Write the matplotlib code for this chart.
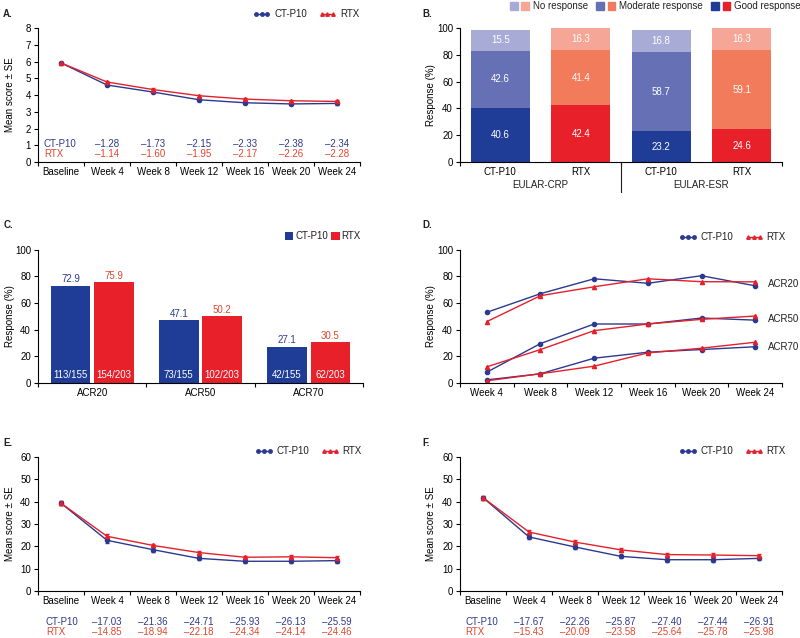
import matplotlib
matplotlib.use('Agg')
import matplotlib.pyplot as plt
from matplotlib.patches import Patch
from matplotlib.lines import Line2D
from matplotlib.legend_handler import HandlerTuple
from matplotlib.transforms import blended_transform_factory
import numpy as np

plt.rcParams['font.family'] = ['Liberation Sans', 'DejaVu Sans']
plt.rcParams['font.size'] = 7
plt.rcParams['axes.linewidth'] = 0.8
plt.rcParams['text.color'] = '#231f20'

BLUE = '#2b3990'
RED = '#e4202a'
BLUE_TXT = '#2e3a8c'
RED_TXT = '#e0472e'

# data
weeks = ['Baseline', 'Week 4', 'Week 8', 'Week 12', 'Week 16', 'Week 20', 'Week 24']
weeks_d = weeks[1:]

# A
a_ct = [5.92, 4.60, 4.18, 3.72, 3.54, 3.47, 3.50]
a_rtx = [5.92, 4.78, 4.33, 3.96, 3.76, 3.66, 3.62]
a_se_ct = [0.08, 0.08, 0.08, 0.08, 0.08, 0.08, 0.08]
a_se_rtx = [0.07, 0.07, 0.07, 0.07, 0.07, 0.07, 0.07]
a_chg_ct = [-1.28, -1.73, -2.15, -2.33, -2.38, -2.34]
a_chg_rtx = [-1.14, -1.60, -1.95, -2.17, -2.26, -2.28]

# B
b_cats = ['CT-P10', 'RTX', 'CT-P10', 'RTX']
b_groups = ['EULAR-CRP', 'EULAR-ESR']
b_good = [40.6, 42.4, 23.2, 24.6]
b_moderate = [42.6, 41.4, 58.7, 59.1]
b_none = [15.5, 16.3, 16.8, 16.3]

# C
c_cats = ['ACR20', 'ACR50', 'ACR70']
c_ct = [72.9, 47.1, 27.1]
c_rtx = [75.9, 50.2, 30.5]
c_n_ct = ['113/155', '73/155', '42/155']
c_n_rtx = ['154/203', '102/203', '62/203']

# D
d_acr20_ct = [53.0, 67.0, 78.2, 74.8, 80.5, 72.9]
d_acr20_rtx = [46.0, 65.5, 72.2, 78.2, 76.0, 75.9]
d_acr50_ct = [8.0, 29.5, 44.2, 44.2, 48.7, 47.1]
d_acr50_rtx = [12.0, 25.0, 39.2, 44.2, 47.7, 50.2]
d_acr70_ct = [2.2, 6.8, 18.5, 23.0, 25.0, 27.1]
d_acr70_rtx = [1.5, 6.8, 12.5, 22.5, 26.0, 30.5]

# E
e_ct = [39.3, 22.7, 18.5, 14.6, 13.3, 13.3, 13.6]
e_rtx = [39.3, 24.5, 20.4, 17.2, 15.1, 15.3, 14.9]
e_se_ct = [0.9, 1.0, 1.0, 0.9, 0.9, 0.9, 0.9]
e_se_rtx = [0.8, 0.8, 0.8, 0.7, 0.7, 0.7, 0.7]
e_chg_ct = [-17.03, -21.36, -24.71, -25.93, -26.13, -25.59]
e_chg_rtx = [-14.85, -18.94, -22.18, -24.34, -24.14, -24.46]

# F
f_ct = [41.8, 24.2, 19.7, 15.5, 14.0, 14.0, 14.6]
f_rtx = [41.8, 26.4, 21.9, 18.4, 16.3, 16.1, 15.8]
f_se_ct = [0.9, 0.9, 0.9, 0.8, 0.8, 0.8, 0.8]
f_se_rtx = [0.8, 0.9, 0.9, 0.8, 0.8, 0.9, 0.9]
f_chg_ct = [-17.67, -22.26, -25.87, -27.40, -27.44, -26.91]
f_chg_rtx = [-15.43, -20.09, -23.58, -25.64, -25.78, -25.98]

ct_cols = ['#1f3c96', '#6670b5', '#a7abd5']
rtx_cols = ['#e8202a', '#f27b5b', '#f5a697']


def fmt(v):
    return f'{v:.2f}'.replace('-', '\u2013')


def style(ax, labels):
    n = len(labels)
    x = np.arange(n)
    for s in ['top', 'right']:
        ax.spines[s].set_visible(False)
    ax.set_xlim(-0.5, n - 0.5)
    ax.set_xticks(x)
    ax.set_xticklabels(labels)
    ax.set_xticks(np.arange(n + 1) - 0.5, minor=True)
    ax.tick_params(axis='x', which='major', length=0, pad=3.5)
    ax.tick_params(axis='x', which='minor', length=3, width=0.8)
    ax.tick_params(axis='y', length=3, width=0.8, pad=2)


def set_ylab(ax, text, x):
    ax.set_ylabel(text)
    ax.yaxis.set_label_coords(x, 0.5)


def line_legend(ax, x, y):
    h = [Line2D([], [], color=BLUE, marker='o', ms=2.5, lw=1),
         Line2D([], [], color=RED, marker='^', ms=2.5, lw=1)]
    ax.legend(h, ['CT-P10', 'RTX'], loc='center right', bbox_to_anchor=(x, y),
              bbox_transform=fig.transFigure, ncol=2, frameon=False, numpoints=3,
              handlelength=1.8, columnspacing=1.2, handletextpad=0.4, fontsize=7)


def score_panel(ax, ct, rtx, se_ct, se_rtx, labx):
    x = np.arange(len(weeks))
    ax.errorbar(x, ct, yerr=se_ct, color=BLUE, marker='o', ms=3, lw=1,
                capsize=1.5, elinewidth=0.8)
    ax.errorbar(x, rtx, yerr=se_rtx, color=RED, marker='^', ms=3, lw=1,
                capsize=1.5, elinewidth=0.8)
    style(ax, weeks)
    set_ylab(ax, 'Mean score \u00b1 SE', labx)


fig = plt.figure(figsize=(8, 6.38), dpi=100)
axA = fig.add_axes([0.0475, 0.746, 0.4025, 0.210])
axB = fig.add_axes([0.575, 0.746, 0.4025, 0.210])
axC = fig.add_axes([0.0475, 0.400, 0.4060, 0.2085])
axD = fig.add_axes([0.575, 0.400, 0.4025, 0.2085])
axE = fig.add_axes([0.0475, 0.0737, 0.4025, 0.210])
axF = fig.add_axes([0.575, 0.0737, 0.4025, 0.210])

# A
score_panel(axA, a_ct, a_rtx, a_se_ct, a_se_rtx, -0.072)
axA.set_ylim(0, 8)
axA.set_yticks(range(0, 9))
axA.text(-0.37, 1.1, 'CT-P10', color=BLUE_TXT, va='center')
axA.text(-0.37, 0.5, 'RTX', color=RED_TXT, va='center')
for i, (c, r) in enumerate(zip(a_chg_ct, a_chg_rtx)):
    axA.text(i + 1, 1.1, fmt(c), color=BLUE_TXT, ha='center', va='center')
    axA.text(i + 1, 0.5, fmt(r), color=RED_TXT, ha='center', va='center')
line_legend(axA, 0.46, 0.978)

# B
xb = np.arange(len(b_cats))
cols_b = [ct_cols if c == 'CT-P10' else rtx_cols for c in b_cats]
bottom = np.zeros(len(b_cats))
for k, vals in enumerate([b_good, b_moderate, b_none]):
    axB.bar(xb, vals, width=0.73, bottom=bottom, color=[c[k] for c in cols_b])
    for i, v in enumerate(vals):
        axB.text(xb[i], bottom[i] + v / 2, f'{v:.1f}', color='white',
                 ha='center', va='center', fontsize=7)
    bottom += np.array(vals)
style(axB, b_cats)
axB.set_xticks([-0.5, 1.5, 3.5], minor=True)
axB.set_ylim(0, 100)
axB.set_yticks(range(0, 101, 20))
set_ylab(axB, 'Response (%)', -0.075)
tb = blended_transform_factory(axB.transData, axB.transAxes)
for i, g in enumerate(b_groups):
    axB.text(2 * i + 0.5, -0.175, g, transform=tb, ha='center', va='center')
axB.plot([1.5, 1.5], [0, -0.224], transform=tb, color='#231f20', lw=0.8, clip_on=False)
hB = [(Patch(color=ct_cols[2]), Patch(color=rtx_cols[2])),
      (Patch(color=ct_cols[1]), Patch(color=rtx_cols[1])),
      (Patch(color=ct_cols[0]), Patch(color=rtx_cols[0]))]
axB.legend(hB, ['No response', 'Moderate response', 'Good response'],
           handler_map={tuple: HandlerTuple(ndivide=None, pad=0.4)},
           loc='center right', bbox_to_anchor=(1.012, 0.99), bbox_transform=fig.transFigure,
           ncol=3, frameon=False, handlelength=2.0, handleheight=0.9,
           columnspacing=0.8, handletextpad=0.4, fontsize=7)

# C
xc = np.arange(len(c_cats))
axC.bar(xc - 0.2, c_ct, width=0.365, color=ct_cols[0], label='CT-P10')
axC.bar(xc + 0.2, c_rtx, width=0.365, color=rtx_cols[0], label='RTX')
for i in range(len(c_cats)):
    axC.text(xc[i] - 0.2, c_ct[i] + 1, f'{c_ct[i]:.1f}', color=BLUE_TXT, ha='center', va='bottom')
    axC.text(xc[i] + 0.2, c_rtx[i] + 1, f'{c_rtx[i]:.1f}', color=RED_TXT, ha='center', va='bottom')
    axC.text(xc[i] - 0.2, 5.5, c_n_ct[i], color='white', ha='center', va='center')
    axC.text(xc[i] + 0.2, 5.5, c_n_rtx[i], color='white', ha='center', va='center')
style(axC, c_cats)
axC.set_ylim(0, 100)
axC.set_yticks(range(0, 101, 20))
set_ylab(axC, 'Response (%)', -0.072)
axC.legend(loc='center right', bbox_to_anchor=(0.462, 0.630), bbox_transform=fig.transFigure,
           ncol=2, frameon=False, handlelength=0.9, handleheight=0.9,
           columnspacing=0.3, handletextpad=0.2, fontsize=7)

# D
xd = np.arange(len(weeks_d))
for ct, rtx in [(d_acr20_ct, d_acr20_rtx), (d_acr50_ct, d_acr50_rtx), (d_acr70_ct, d_acr70_rtx)]:
    axD.plot(xd, ct, color=BLUE, marker='o', ms=3, lw=1)
    axD.plot(xd, rtx, color=RED, marker='^', ms=3, lw=1)
for lab, yv in [('ACR20', 74), ('ACR50', 48), ('ACR70', 27)]:
    axD.text(5.24, yv, lab, va='center', clip_on=False)
style(axD, weeks_d)
axD.set_ylim(0, 100)
axD.set_yticks(range(0, 101, 20))
set_ylab(axD, 'Response (%)', -0.075)
line_legend(axD, 0.993, 0.628)

# E
score_panel(axE, e_ct, e_rtx, e_se_ct, e_se_rtx, -0.072)
axE.set_ylim(0, 60)
axE.set_yticks(range(0, 61, 10))
te = blended_transform_factory(axE.transData, axE.transAxes)
axE.text(-0.33, -0.231, 'CT-P10', color=BLUE_TXT, va='center', transform=te)
axE.text(-0.33, -0.306, 'RTX', color=RED_TXT, va='center', transform=te)
for i, (c, r) in enumerate(zip(e_chg_ct, e_chg_rtx)):
    axE.text(i + 1, -0.231, fmt(c), color=BLUE_TXT, ha='center', va='center', transform=te)
    axE.text(i + 1, -0.306, fmt(r), color=RED_TXT, ha='center', va='center', transform=te)
line_legend(axE, 0.463, 0.293)

# F
score_panel(axF, f_ct, f_rtx, f_se_ct, f_se_rtx, -0.075)
axF.set_ylim(0, 60)
axF.set_yticks(range(0, 61, 10))
tf = blended_transform_factory(axF.transData, axF.transAxes)
axF.text(-0.39, -0.231, 'CT-P10', color=BLUE_TXT, va='center', transform=tf)
axF.text(-0.39, -0.306, 'RTX', color=RED_TXT, va='center', transform=tf)
for i, (c, r) in enumerate(zip(f_chg_ct, f_chg_rtx)):
    axF.text(i + 1, -0.231, fmt(c), color=BLUE_TXT, ha='center', va='center', transform=tf)
    axF.text(i + 1, -0.306, fmt(r), color=RED_TXT, ha='center', va='center', transform=tf)
line_legend(axF, 0.993, 0.293)

# panel letters
for lab, x, y in [('A.', 0.004, 0.978), ('B.', 0.528, 0.978), ('C.', 0.004, 0.647),
                  ('D.', 0.528, 0.647), ('E.', 0.004, 0.306), ('F.', 0.528, 0.305)]:
    fig.text(x, y, lab, fontweight='bold', va='center')

fig.savefig('out.png', dpi=100)
